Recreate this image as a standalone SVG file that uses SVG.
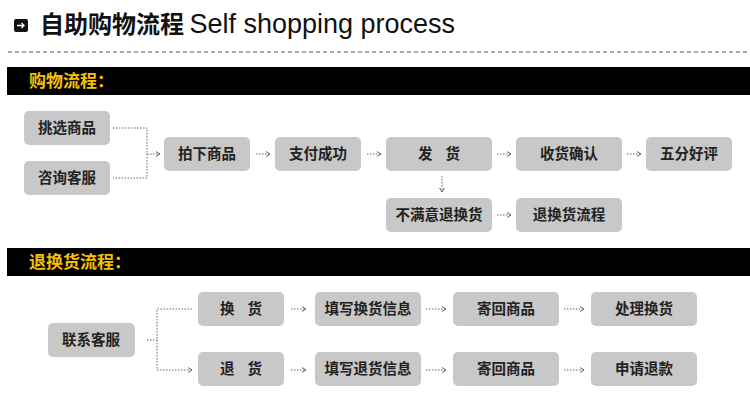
<svg xmlns="http://www.w3.org/2000/svg" width="750" height="400" viewBox="0 0 750 400">
<style>
.n rect{fill:#c8c8c8;rx:5}
.n text{font:bold 14.5px "Noto Sans CJK SC","Liberation Sans",sans-serif;fill:#222;text-anchor:middle}
.c path{fill:none;stroke:#666;stroke-width:1;stroke-dasharray:1.5 1.5}
.bar text{font:bold 17px "Noto Sans CJK SC",sans-serif;fill:#f5c000}
</style>
<defs><marker id="a" viewBox="0 0 6 6" refX="5" refY="3" markerWidth="6" markerHeight="6" orient="auto"><path d="M1,0.5L5,3L1,5.5" fill="none" stroke="#666"/></marker></defs>
<rect width="750" height="400" fill="#fff"/>
<rect x="14" y="19" width="14" height="13" rx="2" fill="#111"/>
<path d="M17,25.5h7M21.5,23l2.5,2.5l-2.5,2.5" stroke="#fff" stroke-width="1.3" fill="none"/>
<text x="40" y="33" font-family="Noto Sans CJK SC,sans-serif" font-weight="bold" font-size="24" fill="#111">自助购物流程 <tspan font-family="Liberation Sans,sans-serif" font-weight="normal" font-size="27">Self shopping process</tspan></text>
<line x1="8" y1="52" x2="750" y2="52" stroke="#555" stroke-dasharray="4 3"/>
<g class="bar"><rect x="7" y="67" width="743" height="28" fill="#000"/><text x="29" y="87">购物流程：</text></g>
<g class="bar"><rect x="7" y="248" width="743" height="28" fill="#000"/><text x="29" y="268">退换货流程：</text></g>
<g class="c">
<path d="M113,128H147V178H113"/>
<path d="M147,154H160" marker-end="url(#a)"/>
<path d="M256,154H270" marker-end="url(#a)"/>
<path d="M367,154H381" marker-end="url(#a)"/>
<path d="M497,154H511" marker-end="url(#a)"/>
<path d="M627,154H641" marker-end="url(#a)"/>
<path d="M442,176V192" marker-end="url(#a)"/>
<path d="M497,215H511" marker-end="url(#a)"/>
<path d="M147,340H157M192,309H157V370H192" marker-end="url(#a)"/>
<path d="M291,309H306" marker-end="url(#a)"/>
<path d="M291,370H306" marker-end="url(#a)"/>
<path d="M426,309H446" marker-end="url(#a)"/>
<path d="M426,370H446" marker-end="url(#a)"/>
<path d="M564,309H584" marker-end="url(#a)"/>
<path d="M564,370H584" marker-end="url(#a)"/>
</g>
<g id="n1" class="n"><rect x="24" y="111" width="86" height="34"/><text x="67" y="133">挑选商品</text></g>
<g id="n2" class="n"><rect x="24" y="161" width="86" height="34"/><text x="67" y="183">咨询客服</text></g>
<g id="n3" class="n"><rect x="164" y="137" width="86" height="34"/><text x="207" y="159">拍下商品</text></g>
<g id="n4" class="n"><rect x="275" y="137" width="86" height="34"/><text x="318" y="159">支付成功</text></g>
<g id="n5" class="n"><rect x="386" y="137" width="106" height="34"/><text x="439" y="159" xml:space="preserve">发    货</text></g>
<g id="n6" class="n"><rect x="516" y="137" width="106" height="34"/><text x="569" y="159">收货确认</text></g>
<g id="n7" class="n"><rect x="646" y="137" width="86" height="34"/><text x="689" y="159">五分好评</text></g>
<g id="n8" class="n"><rect x="386" y="198" width="106" height="34"/><text x="439" y="220">不满意退换货</text></g>
<g id="n9" class="n"><rect x="516" y="198" width="106" height="34"/><text x="569" y="220">退换货流程</text></g>
<g id="m1" class="n"><rect x="48" y="323" width="87" height="34"/><text x="91" y="345">联系客服</text></g>
<g id="m2" class="n"><rect x="198" y="292" width="86" height="34"/><text x="241" y="314" xml:space="preserve">换    货</text></g>
<g id="m3" class="n"><rect x="198" y="352" width="86" height="34"/><text x="241" y="374" xml:space="preserve">退    货</text></g>
<g id="m4" class="n"><rect x="315" y="292" width="106" height="34"/><text x="368" y="314">填写换货信息</text></g>
<g id="m5" class="n"><rect x="315" y="352" width="106" height="34"/><text x="368" y="374">填写退货信息</text></g>
<g id="m6" class="n"><rect x="453" y="292" width="106" height="34"/><text x="506" y="314">寄回商品</text></g>
<g id="m7" class="n"><rect x="453" y="352" width="106" height="34"/><text x="506" y="374">寄回商品</text></g>
<g id="m8" class="n"><rect x="591" y="292" width="106" height="34"/><text x="644" y="314">处理换货</text></g>
<g id="m9" class="n"><rect x="591" y="352" width="106" height="34"/><text x="644" y="374">申请退款</text></g>
</svg>
